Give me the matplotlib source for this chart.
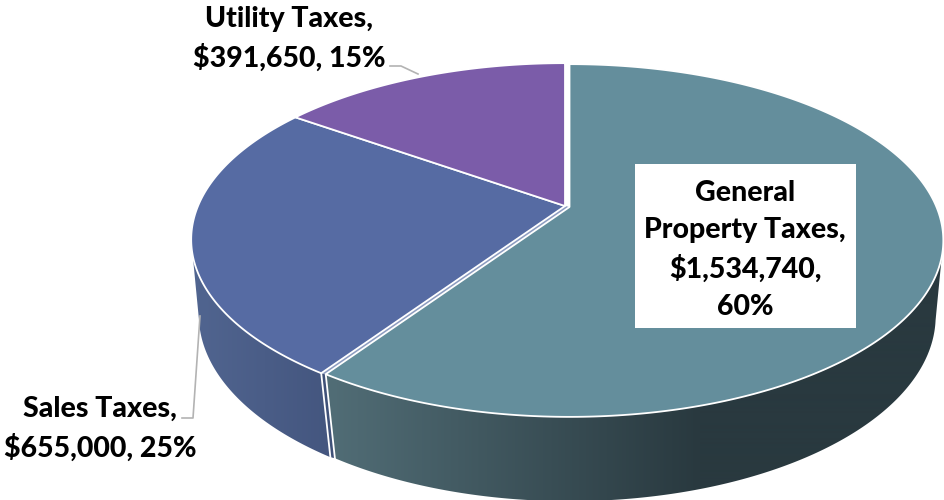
import numpy as np
import matplotlib
matplotlib.use("Agg")
import matplotlib.pyplot as plt
from matplotlib.patches import Polygon

# tax revenue by source
names = ["General Property Taxes", "Sales Taxes", "Utility Taxes"]
amounts = [1534740, 655000, 391650]
labels = ["General\nProperty Taxes,\n$1,534,740,\n60%",
          "Sales Taxes,\n$655,000, 25%",
          "Utility Taxes,\n$391,650, 15%"]
top_colors = ["#648e9c", "#566ba3", "#7b5ca9"]
wall_left = ["#516d76", "#50648f"]
wall_right = ["#29393f", "#44567f"]

# perspective of the disc, top face and bottom face
cx, cy = 565, 206
top_b, top_a, top_k = 367, 170, 0.19
low_cy, low_b, low_a, low_k = 284, 361, 180, 0.1675


def top_pt(t, dx=0, dy=0):
    w = 1 + top_k * np.cos(t)
    return cx + dx + top_b * np.sin(t) / w, cy + dy - top_a * np.cos(t) / w


def low_pt(t, dx=0, dy=0):
    w = 1 + low_k * np.cos(t)
    return cx + dx + low_b * np.sin(t) / w, low_cy + dy - low_a * np.cos(t) / w


fig = plt.figure(figsize=(9.44, 5), dpi=100)
ax = fig.add_axes([0, 0, 1, 1])

# clockwise from 12 o'clock
fracs = np.array(amounts) / sum(amounts)
edges = np.concatenate([[0], np.cumsum(fracs)]) * 2 * np.pi
offsets = [(4.5, 1), (0, 0), (0, 0)]


def wall(i, t0, t1, x0, x1):
    # side of a slice, a horizontal gradient clipped to its outline
    t = np.linspace(t0, t1, 300)
    dx, dy = offsets[i]
    xa, ya = top_pt(t, dx, dy)
    xb, yb = low_pt(t[::-1], dx, dy)
    outline = Polygon(np.c_[np.r_[xa, xb], np.r_[ya, yb]], closed=True, transform=ax.transData)
    px_x = np.arange(944) + 0.5
    s = np.clip((px_x - x0) / (x1 - x0), 0, 1)[None, :, None]
    c0 = np.array(matplotlib.colors.to_rgb(wall_left[i]))
    c1 = np.array(matplotlib.colors.to_rgb(wall_right[i]))
    im = ax.imshow(c0 + (c1 - c0) * s, extent=[0, 944, 500, 0], aspect="auto",
                   interpolation="bilinear", zorder=1)
    im.set_clip_path(outline)


# a wall is only visible from one widest point of the rim to the other
side = np.pi - np.arccos(top_k)
wall(1, edges[1], 2 * np.pi - side, 200, 330)
wall(0, side, edges[1], 330, 700)

ax.set_xlim(0, 944)
ax.set_ylim(500, 0)
ax.axis("off")

# sliver showing between the pulled out slice and its neighbour
tb = edges[1]
px, py = top_pt(tb)
qx, qy = low_pt(tb)
ax.fill([px, px + 4.5, qx + 4.5, qx], [py, py + 1, qy + 1, qy], color="#3f5178", lw=0, zorder=1.5)
ax.plot([px, qx], [py, qy], color="white", lw=1.3, zorder=1.6)
ax.plot([px + 4.5, qx + 4.5], [py + 1, qy + 1], color="white", lw=1.3, zorder=1.6)

ax.fill([cx, px, px + 4.5, cx + 4.5], [cy, py, py + 1, cy + 1], color="#8d9cc0", lw=0, zorder=1.7)

for i in [1, 2, 0]:
    t = np.linspace(edges[i], edges[i + 1], 300)
    dx, dy = offsets[i]
    xs, ys = top_pt(t, dx, dy)
    ax.fill(np.r_[cx + dx, xs], np.r_[cy + dy, ys], facecolor=top_colors[i],
            edgecolor="white", lw=1.3, joinstyle="round", zorder=2)

# leader lines
ax.plot([390, 401, 418], [66, 66, 74], color="#b3b3b3", lw=1.2, zorder=3)
ax.plot([182, 193, 200], [418, 418, 316], color="#b3b3b3", lw=1.2, zorder=3)

font = dict(family="Lato", weight="black", color="black", fontsize=20.5,
            ha="center", va="center", linespacing=1.52, zorder=5)
ax.fill([635, 856, 856, 635], [164, 164, 328, 328], color="white", lw=0, zorder=4)
ax.text(745, 250, labels[0], **font)
ax.text(100, 429, labels[1], **font)
ax.text(289, 39, labels[2], **font)

fig.savefig("out.png", dpi=100)
